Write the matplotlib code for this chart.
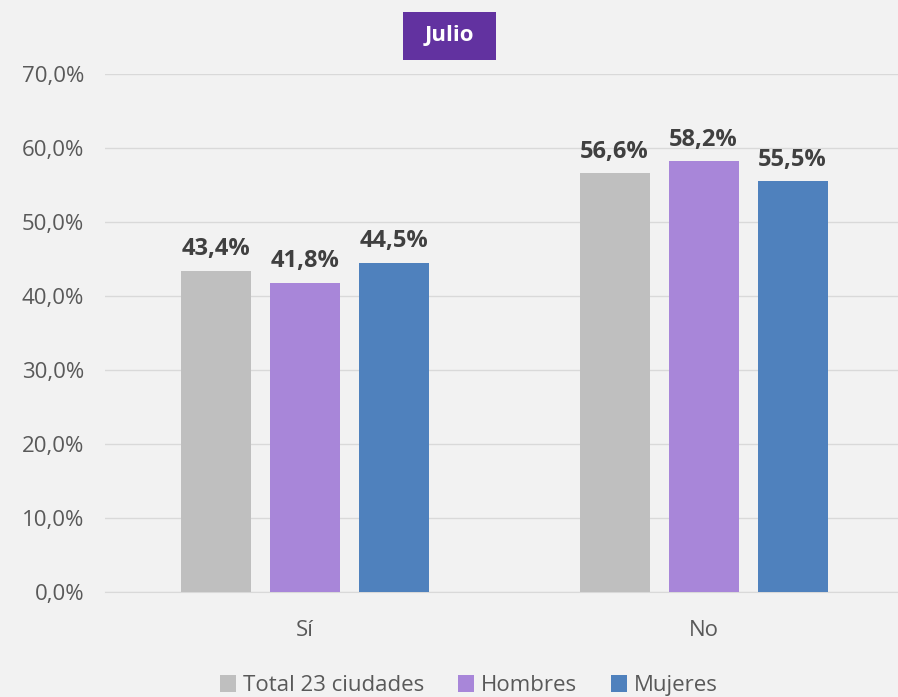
import matplotlib.pyplot as plt
from matplotlib.patches import Rectangle
import numpy as np

categories = ["Sí", "No"]
series_names = ["Total 23 ciudades", "Hombres", "Mujeres"]
total = [43.4, 56.6]
hombres = [41.8, 58.2]
mujeres = [44.5, 55.5]
yticks = [0, 10, 20, 30, 40, 50, 60, 70]

colors = ["#BFBFBF", "#A886D9", "#4F81BD"]
bg = "#F2F2F2"

plt.rcParams['font.family'] = ['Open Sans', 'DejaVu Sans']

fig = plt.figure(figsize=(8.98, 6.97), dpi=100, facecolor=bg)
ax = fig.add_axes([0.117, 0.1506, 0.883, 0.7432], facecolor=bg)

x = np.arange(len(categories))
width = 0.175
step = 0.223
for i, (vals, name, c) in enumerate(zip([total, hombres, mujeres], series_names, colors)):
    pos = x + (i - 1) * step
    ax.bar(pos, vals, width=width, color=c, label=name, zorder=3)
    for p, v in zip(pos, vals):
        ax.text(p, v + 1.3, f"{v:.1f}%".replace(".", ","), ha="center", va="bottom",
                fontsize=17, fontweight="bold", color="#404040", zorder=4)

ax.set_xlim(-0.5, 1.487)
ax.set_ylim(0, 70)
ax.set_yticks(yticks)
ax.set_yticklabels([f"{t:.1f}%".replace(".", ",") for t in yticks], fontsize=16, color="#595959")
ax.set_xticks(x)
ax.set_xticklabels(categories, fontsize=16, color="#595959")
ax.tick_params(axis="y", length=0, pad=15)
ax.tick_params(axis="x", length=0, pad=20)
ax.grid(axis="y", color="#D9D9D9", linewidth=1, zorder=0)
for s in ["top", "right", "left"]:
    ax.spines[s].set_visible(False)
ax.spines["bottom"].set_color("#D9D9D9")

fig.patches.append(Rectangle((403 / 898, 1 - 60 / 697), 93 / 898, 48 / 697,
                             transform=fig.transFigure, facecolor="#6232A0",
                             edgecolor="none", zorder=5))
fig.text(449.5 / 898, 1 - 36 / 697, "Julio", ha="center", va="center", fontsize=16,
         fontweight="bold", color="white", zorder=6)

leg = fig.legend(loc="center", bbox_to_anchor=(0.522, 0.016), ncol=3, frameon=False,
                 fontsize=16, handlelength=0.75, handleheight=0.75, handletextpad=0.3,
                 columnspacing=1.5)
for t in leg.get_texts():
    t.set_color("#595959")

fig.savefig("out.png", dpi=100, facecolor=bg)
